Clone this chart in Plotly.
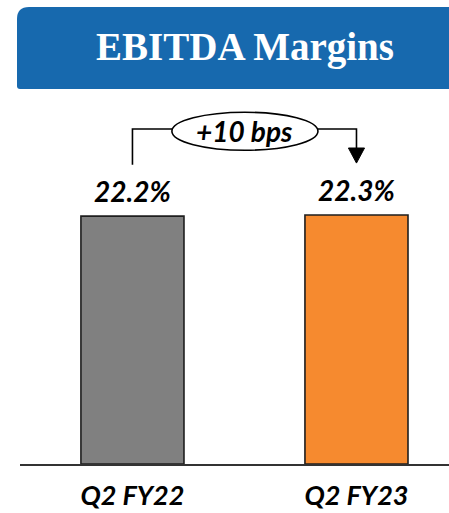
import plotly.graph_objects as go

# ---- data ----
categories = ["Q2 FY22", "Q2 FY23"]
margins = [22.2, 22.3]
value_labels = ["22.2%", "22.3%"]
bar_colors = ["#808080", "#F68A2F"]
title_text = "EBITDA Margins"
delta_label = "+10 bps"

# ---- layout helpers ----
W, H = 449, 513
YMAX = 32.6
x_pos = list(range(len(categories)))

def fx(px):
    return px / W

def fy(py):
    return 1 - py / H

FONT = "Lato"

fig = go.Figure()
fig.add_trace(go.Bar(
    x=x_pos, y=margins, width=0.46,
    marker=dict(color=bar_colors, line=dict(color="#1e1e1e", width=1.6)),
    hoverinfo="skip",
))

# value labels
for xi, v, lab in zip(x_pos, margins, value_labels):
    fig.add_annotation(x=xi, y=v, xref="x", yref="y", text=f"<b><i>{lab}</i></b>",
                       showarrow=False, yanchor="bottom", xanchor="center", yshift=6,
                       font=dict(family=FONT, size=28, color="#000000"))

shapes = []
# banner with rounded top-left corner
r = 12
x0, x1, y0, y1 = 17, 460, 7, 89
rb = 3
path = (f"M {fx(x0+r)},{fy(y0)} L {fx(x1)},{fy(y0)} L {fx(x1)},{fy(y1)} "
        f"L {fx(x0+rb)},{fy(y1)} Q {fx(x0)},{fy(y1)} {fx(x0)},{fy(y1-rb)} "
        f"L {fx(x0)},{fy(y0+r)} Q {fx(x0)},{fy(y0)} {fx(x0+r)},{fy(y0)} Z")
shapes.append(dict(type="path", xref="paper", yref="paper", path=path,
                   fillcolor="#1769AE", line=dict(width=0), layer="below"))

# bracket between the bars
y_br = 30.0
y_left_bottom = 26.8
shapes.append(dict(type="path", xref="x", yref="y",
                   path=f"M {x_pos[0]},{y_left_bottom} L {x_pos[0]},{y_br} L 0.18,{y_br}",
                   line=dict(color="#000000", width=1.6)))
shapes.append(dict(type="path", xref="x", yref="y",
                   path=f"M 0.82,{y_br} L {x_pos[1]},{y_br} L {x_pos[1]},28.3",
                   line=dict(color="#000000", width=1.6)))
# arrowhead
shapes.append(dict(type="path", xref="x", yref="y",
                   path=f"M {x_pos[1]-0.036},28.3 L {x_pos[1]+0.036},28.3 L {x_pos[1]},26.95 Z",
                   fillcolor="#000000", line=dict(color="#000000", width=1)))
# ellipse
shapes.append(dict(type="circle", xref="x", yref="y", x0=0.176, x1=0.828,
                   y0=28.1, y1=31.5, fillcolor="#ffffff",
                   line=dict(color="#000000", width=1.6)))

fig.add_annotation(x=0.5, y=29.85, xref="x", yref="y", text=f"<b><i>{delta_label}</i></b>",
                   showarrow=False, xanchor="center", yanchor="middle",
                   font=dict(family=FONT, size=28, color="#000000"))

# title
fig.add_annotation(x=fx(244.5), y=fy(47), xref="paper", yref="paper",
                   xanchor="center", yanchor="middle",
                   text=f"<b>{title_text}</b>", showarrow=False,
                   font=dict(family="Liberation Serif", size=39, color="#ffffff"))

fig.update_layout(
    width=W, height=H, autosize=False,
    margin=dict(l=0, r=0, t=0, b=0),
    paper_bgcolor="#ffffff", plot_bgcolor="#ffffff",
    showlegend=False, shapes=shapes,
    xaxis=dict(domain=[fx(20), 1], range=[-0.502, 1.413],
               tickvals=x_pos, ticktext=[f"<b><i>{c}</i></b>" for c in categories],
               tickfont=dict(family=FONT, size=27, color="#000000"),
               showline=True, linecolor="#333333", linewidth=2,
               showgrid=False, zeroline=False, ticks="", automargin=False,
               ticklabelstandoff=7, fixedrange=True),
    yaxis=dict(domain=[fy(464), fy(100)], range=[0, YMAX], visible=False,
               showgrid=False, zeroline=False, fixedrange=True),
)

fig.write_html("out.html", config={"displayModeBar": False},
               post_script="document.body.style.margin='0';document.body.style.overflow='hidden';")
